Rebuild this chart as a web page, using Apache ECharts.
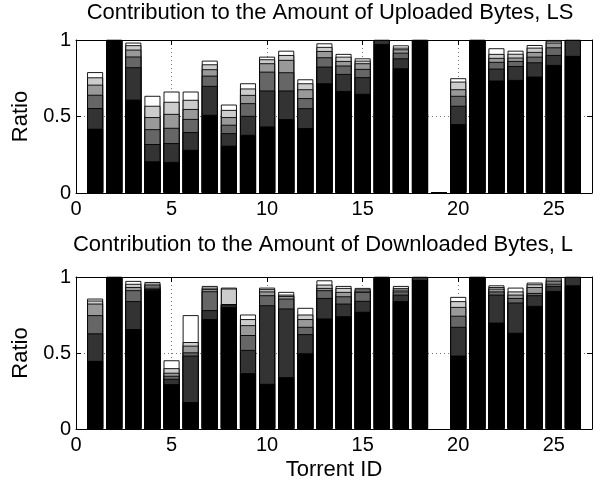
<!DOCTYPE html>
<html>
<head>
<meta charset="utf-8">
<script src="https://cdn.jsdelivr.net/npm/echarts@6/dist/echarts.min.js"></script>
<style>
html,body{margin:0;padding:0;background:#fff;}
#chart{width:614px;height:483px;}
</style>
</head>
<body>
<div id="chart"></div>
<script>
// Torrent IDs (x positions)
const torrentIds = [1,2,3,4,5,6,7,8,9,10,11,12,13,14,15,16,17,18,19,20,21,22,23,24,25,26];
const xTicks = [0,5,10,15,20,25];
const yTicks = [0,0.5,1];

// Upload ratio: cumulative top of each stacked segment (black, dark, mid, gray, light, white)
const upBlack = [0.42,1.00,0.61,0.207,0.203,0.282,0.511,0.309,0.380,0.435,0.483,0.424,0.717,0.667,0.648,0.974,0.815,1.00,0.004,0.450,1.00,0.735,0.739,0.761,0.837,0.896];
const upDark  = [0.555,1.00,0.822,0.320,0.326,0.398,0.700,0.391,0.504,0.670,0.670,0.554,0.826,0.778,0.757,1.00,0.880,1.00,0.004,0.570,1.00,0.813,0.830,0.854,0.902,1.00];
const upMid   = [0.642,1.00,0.892,0.417,0.426,0.484,0.767,0.446,0.587,0.793,0.789,0.620,0.887,0.833,0.811,1.00,0.917,1.00,0.004,0.635,1.00,0.857,0.863,0.891,0.952,1.00];
const upGray  = [0.708,1.00,0.937,0.496,0.517,0.549,0.809,0.496,0.641,0.848,0.870,0.678,0.928,0.863,0.848,1.00,0.939,1.00,0.004,0.678,1.00,0.883,0.885,0.922,0.983,1.00];
const upLight = [0.756,1.00,0.966,0.570,0.596,0.609,0.841,0.543,0.683,0.874,0.902,0.717,0.955,0.891,0.865,1.00,0.950,1.00,0.004,0.728,1.00,0.909,0.910,0.950,0.995,1.00];
const upWhite = [0.790,1.00,0.983,0.635,0.663,0.663,0.865,0.578,0.717,0.891,0.930,0.743,0.978,0.909,0.880,1.00,0.965,1.00,0.004,0.750,1.00,0.946,0.930,0.967,1.00,1.00];

// Download ratio: cumulative top of each stacked segment
const downBlack = [0.448,1.00,0.657,0.913,0.295,0.177,0.723,0.803,0.367,0.297,0.341,0.498,0.727,0.742,0.771,1.00,0.841,0.980,null,0.483,1.00,0.700,0.633,0.810,0.908,0.945];
const downDark  = [0.629,1.00,0.841,0.920,0.330,0.483,0.782,0.819,0.520,0.814,0.793,0.624,0.862,0.825,0.843,1.00,0.884,1.00,null,0.672,1.00,0.884,0.832,0.880,0.941,1.00];
const downMid   = [0.749,1.00,0.913,0.930,0.350,0.504,0.906,0.820,0.618,0.880,0.858,0.672,0.913,0.873,0.902,1.00,0.905,1.00,null,0.745,1.00,0.905,0.862,0.895,0.956,1.00];
const downGray  = [0.825,1.00,0.934,0.945,0.370,0.548,0.920,0.822,0.683,0.905,0.875,0.723,0.928,0.902,0.910,1.00,0.917,1.00,null,0.803,1.00,0.923,0.884,0.934,0.972,1.00];
const downLight = [0.845,1.00,0.955,0.956,0.400,0.572,0.930,0.924,0.723,0.920,0.884,0.753,0.950,0.928,0.919,1.00,0.928,1.00,null,0.841,1.00,0.934,0.905,0.952,0.983,1.00];
const downWhite = [0.858,1.00,0.974,0.967,0.452,0.749,0.941,0.930,0.753,0.930,0.902,0.797,0.978,0.941,0.928,1.00,0.941,1.00,null,0.869,1.00,0.945,0.930,0.963,0.996,1.00];

const levelColors = ['#000000','#333333','#666666','#999999','#cccccc','#ffffff'];
const upLevels = [upBlack, upDark, upMid, upGray, upLight, upWhite];
const downLevels = [downBlack, downDark, downMid, downGray, downLight, downWhite];

const titles = ['Contribution to the Amount of Uploaded Bytes, LS', 'Contribution to the Amount of Downloaded Bytes, L'];

const FONT = '"Liberation Sans", Arial, Helvetica, sans-serif';
const grids = [
  {left: 76, top: 40, width: 516, height: 153},
  {left: 76, top: 277, width: 516, height: 152}
];

const xAxes = [], yAxes = [], series = [];
grids.forEach((g, gi) => {
  const dotted = {show: true, lineStyle: {color: '#777', type: [1, 3], width: 1}};
  xAxes.push({
    gridIndex: gi, type: 'value', min: 0, max: 27, interval: 5, position: 'bottom',
    axisLine: {show: true, onZero: false, lineStyle: {color: '#000', width: 1}},
    axisTick: {show: true, inside: true, length: 5, lineStyle: {color: '#000'}},
    axisLabel: {show: true, color: '#000', fontSize: 20, fontFamily: FONT, margin: 6,
      showMaxLabel: false,
      formatter: v => xTicks.indexOf(v) >= 0 ? String(v) : ''},
    splitLine: dotted,
    name: gi === 1 ? 'Torrent ID' : '', nameLocation: 'middle', nameGap: 30,
    nameTextStyle: {color: '#000', fontSize: 22, fontFamily: FONT}
  });
  xAxes.push({
    gridIndex: gi, type: 'value', min: 0, max: 27, interval: 5, position: 'top',
    axisLine: {show: true, onZero: false, lineStyle: {color: '#000', width: 1}},
    axisTick: {show: true, inside: true, length: 5, lineStyle: {color: '#000'}},
    axisLabel: {show: false}, splitLine: {show: false}
  });
  yAxes.push({
    gridIndex: gi, type: 'value', min: 0, max: 1, interval: 0.5, position: 'left',
    axisLine: {show: true, onZero: false, lineStyle: {color: '#000', width: 1}},
    axisTick: {show: true, inside: true, length: 5, lineStyle: {color: '#000'}},
    axisLabel: {show: true, color: '#000', fontSize: 20, fontFamily: FONT, margin: 5,
      formatter: v => yTicks.indexOf(v) >= 0 ? String(v) : ''},
    splitLine: dotted,
    name: 'Ratio', nameLocation: 'middle', nameGap: 44,
    nameTextStyle: {color: '#000', fontSize: 22, fontFamily: FONT}
  });
  yAxes.push({
    gridIndex: gi, type: 'value', min: 0, max: 1, interval: 0.5, position: 'right',
    axisLine: {show: true, onZero: false, lineStyle: {color: '#000', width: 1}},
    axisTick: {show: true, inside: true, length: 5, lineStyle: {color: '#000'}},
    axisLabel: {show: false}, splitLine: {show: false}
  });
  const levels = gi === 0 ? upLevels : downLevels;
  for (let li = levels.length - 1; li >= 0; li--) {
    const arr = levels[li];
    series.push({
      type: 'bar',
      xAxisIndex: gi * 2,
      yAxisIndex: gi * 2,
      barWidth: 16,
      barGap: '-100%',
      silent: true,
      animation: false,
      itemStyle: {color: levelColors[li], borderColor: '#000', borderWidth: 0.9},
      data: torrentIds.map((id, i) => arr[i] == null ? null : [id, arr[i]]).filter(d => d)
    });
  }
});

const chart = echarts.init(document.getElementById('chart'), null, {renderer: 'canvas'});
chart.setOption({
  animation: false,
  backgroundColor: '#fff',
  grid: grids,
  xAxis: xAxes,
  yAxis: yAxes,
  series: series,
  graphic: [
    {type: 'text', x: 330, y: 2, style: {text: titles[0], fontSize: 22, fontFamily: FONT, fill: '#000', align: 'center', verticalAlign: 'top'}},
    {type: 'text', x: 323, y: 234, style: {text: titles[1], fontSize: 22, fontFamily: FONT, fill: '#000', align: 'center', verticalAlign: 'top'}}
  ]
});
</script>
</body>
</html>
